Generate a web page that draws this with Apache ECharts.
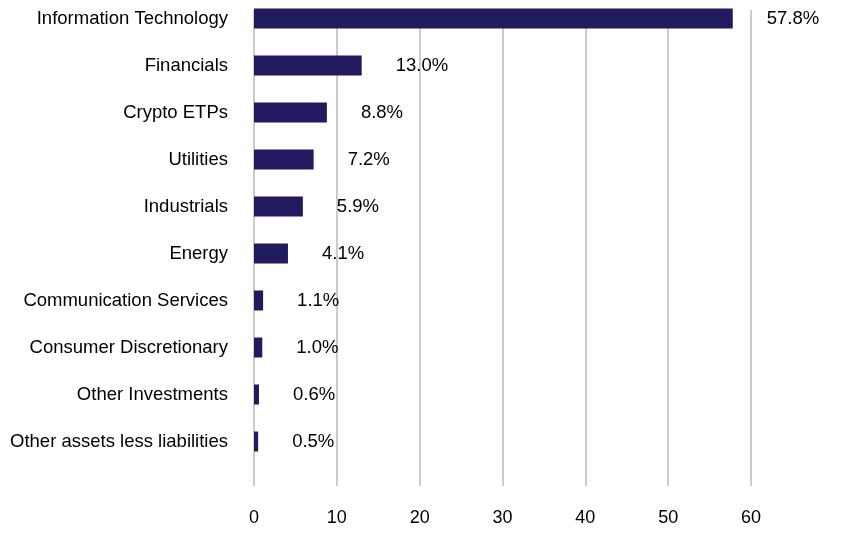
<!DOCTYPE html>
<html>
<head>
<meta charset="utf-8">
<script src="https://cdn.jsdelivr.net/npm/echarts@6/dist/echarts.min.js"></script>
<style>
  html, body { margin: 0; padding: 0; background: #fff; }
  #chart { width: 852px; height: 550px; }
</style>
</head>
<body>
<div id="chart"></div>
<script>
var sectors = [
    'Information Technology', 'Financials', 'Crypto ETPs', 'Utilities', 'Industrials',
    'Energy', 'Communication Services', 'Consumer Discretionary', 'Other Investments',
    'Other assets less liabilities'
];
var weights = [57.8, 13.0, 8.8, 7.2, 5.9, 4.1, 1.1, 1.0, 0.6, 0.5];
var tickMin = 0, tickMax = 60, tickStep = 10;

var font = 'Liberation Sans, Arial, sans-serif';
var chart = echarts.init(document.getElementById('chart'));

// grid 0 only carries the value axis and its grid lines,
// grid 1 carries the bars (its bands sit a bit higher than the grid lines)
var option = {
    animation: false,
    grid: [
        { left: 254, right: 101, top: 10, height: 476, containLabel: false, outerBoundsMode: 'none' },
        { left: 254, right: 101, top: -5, height: 470, containLabel: false, outerBoundsMode: 'none' }
    ],
    xAxis: [
        {
            gridIndex: 0, type: 'value', min: tickMin, max: tickMax, interval: tickStep,
            axisLine: { show: false }, axisTick: { show: false },
            splitLine: { show: true, lineStyle: { color: '#cbcbcb', width: 2 } },
            axisLabel: { color: '#000', fontSize: 18, fontFamily: font, margin: 23 }
        },
        {
            gridIndex: 1, type: 'value', min: tickMin, max: tickMax, show: false,
            splitLine: { show: false }
        }
    ],
    yAxis: [
        { gridIndex: 0, type: 'category', data: sectors, show: false },
        {
            gridIndex: 1, type: 'category', data: sectors, inverse: true,
            axisLine: { show: false }, axisTick: { show: false },
            axisLabel: { color: '#000', fontSize: 18.5, fontFamily: font, margin: 26 }
        }
    ],
    series: [{
        type: 'bar',
        xAxisIndex: 1,
        yAxisIndex: 1,
        data: weights,
        barWidth: 20,
        itemStyle: { color: '#211a5f' },
        label: {
            show: true,
            position: 'right',
            distance: 34,
            color: '#000',
            fontSize: 18.5,
            fontFamily: font,
            formatter: function (p) { return p.value.toFixed(1) + '%'; }
        }
    }]
};
chart.setOption(option);
</script>
</body>
</html>
